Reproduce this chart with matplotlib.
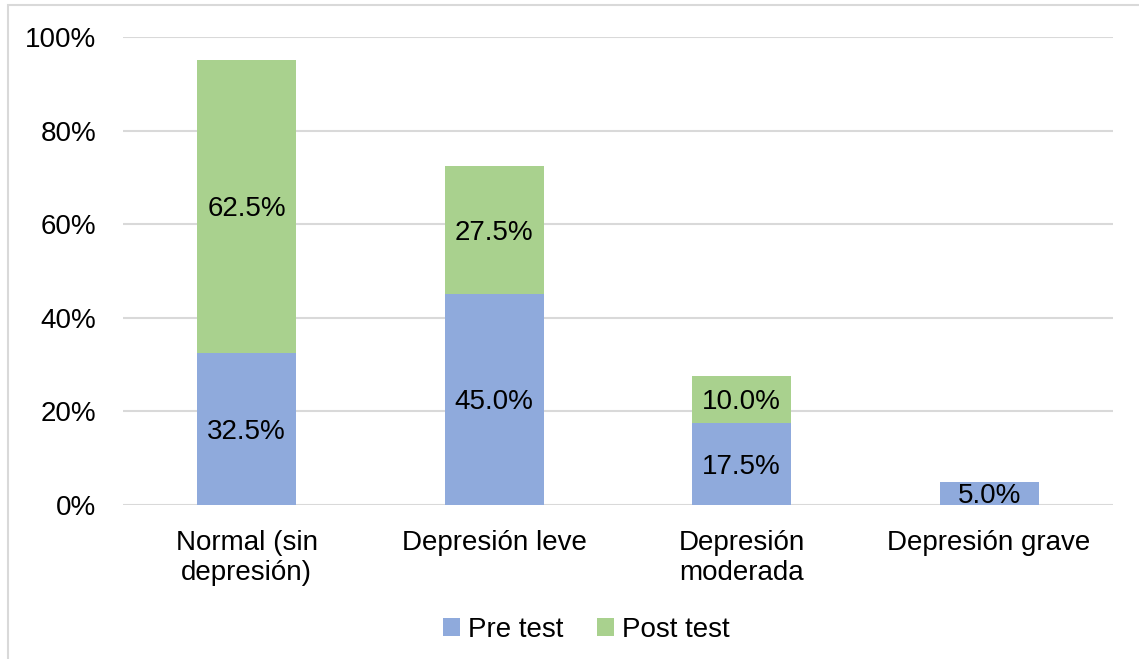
import matplotlib.pyplot as plt
from matplotlib.patches import Rectangle
import numpy as np

plt.rcParams["font.family"] = ["Liberation Sans", "DejaVu Sans"]

categories = ["Normal (sin\ndepresión)", "Depresión leve", "Depresión\nmoderada", "Depresión grave"]
pre_test = [32.5, 45.0, 17.5, 5.0]
post_test = [62.5, 27.5, 10.0, 0.0]
series_names = ["Pre test", "Post test"]

blue = "#8FAADC"
green = "#A9D18E"

fig = plt.figure(figsize=(11.39, 6.59), dpi=100)
ax = fig.add_axes([0.108, 0.2337, 0.869, 0.7102])

x = np.arange(len(categories))
w = 0.4
b1 = ax.bar(x, pre_test, w, color=blue, label=series_names[0], zorder=3)
b2 = ax.bar(x, post_test, w, bottom=pre_test, color=green, label=series_names[1], zorder=3)

# labels centred in each segment
for i in range(len(categories)):
    ax.text(x[i], pre_test[i] / 2 - 0.6, f"{pre_test[i]:.1f}%", ha="center", va="center",
            fontsize=20, zorder=4)
    if post_test[i] > 0:
        ax.text(x[i], pre_test[i] + post_test[i] / 2 - 0.6, f"{post_test[i]:.1f}%",
                ha="center", va="center", fontsize=20, zorder=4)

ax.set_xlim(-0.5, 3.5)
ax.set_ylim(0, 100)
ax.set_yticks(range(0, 101, 20))
ax.set_yticklabels([f"{v}%" for v in range(0, 101, 20)])
ax.set_xticks(x)
ax.set_xticklabels(categories, linespacing=1.2)
ax.tick_params(axis="both", length=0, labelsize=20)
ax.tick_params(axis="y", pad=19)
ax.tick_params(axis="x", pad=18)
ax.grid(axis="y", color="#D9D9D9", linewidth=1.5, zorder=0)
for s in ax.spines.values():
    s.set_visible(False)

fig.legend(handles=[b1, b2], labels=series_names, loc="center", bbox_to_anchor=(0.515, 0.044),
           ncol=2, frameon=False, fontsize=20, handlelength=0.6, handleheight=0.6,
           handletextpad=0.3, columnspacing=1.2)

fig.patches.append(Rectangle((0.007, -0.01), 1.0, 1.002, transform=fig.transFigure,
                             fill=False, edgecolor="#D9D9D9", linewidth=1.5))

fig.savefig("out.png", dpi=100)
